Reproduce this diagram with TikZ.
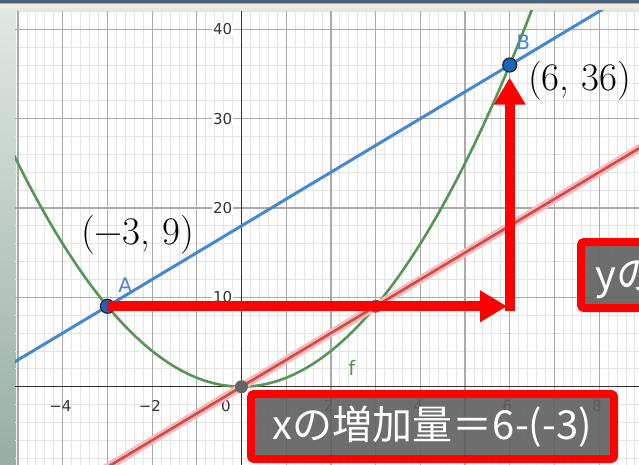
\documentclass[tikz,border=0pt]{standalone}
\usepackage{fontspec}
\newfontfamily\dejavu{DejaVu Sans}
\newfontfamily\jpfont{Noto Sans CJK JP}
\usetikzlibrary{arrows.meta}
\definecolor{ggreen}{RGB}{88,148,88}
\definecolor{ggblue}{RGB}{70,135,205}
\definecolor{gred}{RGB}{210,75,75}
\definecolor{ghalo}{RGB}{242,188,188}
\definecolor{ptblue}{RGB}{25,100,190}
\definecolor{ptgray}{RGB}{100,100,100}
\definecolor{boxgray}{RGB}{95,95,95}
\definecolor{minorg}{RGB}{228,228,228}
\definecolor{majorg}{RGB}{170,170,170}
\definecolor{axisc}{RGB}{50,50,50}
\definecolor{headblue}{RGB}{70,100,130}
\definecolor{headline}{RGB}{160,180,195}
\definecolor{beige}{RGB}{252,236,214}
\definecolor{paleg}{RGB}{226,233,229}
\definecolor{stripbot}{RGB}{150,176,160}
\tikzset{
  minorgrid/.style={minorg, line width=0.8pt},
  majorgrid/.style={majorg, line width=1.2pt},
  axisline/.style={axisc, line width=1.2pt},
  numlab/.style={font=\dejavu\fontsize{15}{15}\selectfont, text=axisc, fill=white, inner sep=1pt},
  bluept/.style={circle, fill=ptblue, draw=black!85, line width=1.2pt, minimum size=14pt, inner sep=0pt},
  graypt/.style={circle, fill=ptgray, minimum size=13pt, inner sep=0pt},
  ptlab/.style={font=\dejavu\fontsize{20}{20}\selectfont},
  bigarrow/.style={red, line width=10pt, -{Triangle[length=27pt,width=30pt]}},
  redbox/.style={draw=red, line width=8pt, fill=boxgray, fill opacity=0.9, draw opacity=1, rounded corners=3pt, inner sep=0pt},
  boxtext/.style={text=white, font=\jpfont\fontsize{40}{40}\selectfont, inner sep=0pt},
  coordlab/.style={font=\rmfamily\fontsize{39}{39}\selectfont, text=black, inner sep=0pt}
}
\begin{document}
\begin{tikzpicture}[x=1pt,y=-1pt]
\useasboundingbox (0,0) rectangle (639,465);
\clip (0,0) rectangle (639,465);
% frame background
\fill[white] (0,0) rectangle (639,465);
\shade[top color=paleg, bottom color=stripbot] (0,0) rectangle (16,465);
\fill[paleg] (16,8) rectangle (639,11);
\fill[headblue] (0,0) rectangle (639,3);
\fill[headline] (0,3) rectangle (639,4.5);
\fill[beige] (0,4.5) rectangle (639,8.5);
% data coordinates
\begin{scope}[shift={(241.5,386.7)}, x=44.7pt, y=8.935pt]
  \begin{scope}
    \clip (-5.07,-9) rectangle (9,42.05);
    \foreach \i in {-26,...,45} \draw[minorgrid] (\i/5,-9) -- (\i/5,42.1);
    \foreach \j in {-4,...,21} \draw[minorgrid] (-5.1,2*\j) -- (9,2*\j);
    \foreach \i in {-5,...,8} \draw[majorgrid] (\i,-9) -- (\i,42.1);
    \foreach \j in {10,20,30,40} \draw[majorgrid] (-5.1,\j) -- (9,\j);
    \draw[axisline] (-5.1,0) -- (9,0);
    \draw[axisline] (0,-9) -- (0,42.1);
    % axis labels
    \foreach \v in {40,30,20,10} \node[numlab, anchor=east] (ylab\v) at (-0.18,\v) {\v};
    \foreach \v/\t in {-4/−4,-2/−2,2/2,4/4,6/6,8/8} \node[numlab, fill=none] (xlab\v) at (\v-0.05,-2.16) {\t};
    \node[numlab, fill=none] (xlab0) at (-0.35,-2.16) {0};
    % curves
    \draw[ggreen, line width=2.6pt] plot[domain=-5.2:6.6, samples=120] (\x,{\x*\x});
    \draw[ggblue, line width=3pt] (-5.2,2.4) -- (8.1,42.3);
    \draw[ghalo, line width=8pt] (-3.2,-9.6) -- (9.2,27.6);
    \draw[gred, line width=2.6pt] (-3.2,-9.6) -- (9.2,27.6);
    % points
    \node[graypt] (O) at (0,0) {};
    \node[graypt] (P) at (3,9) {};
    \node[bluept] (A) at (-3,9) {};
    \node[bluept] (B) at (6,36) {};
    \node[ptlab, text=ggblue] (Alab) at (-2.6,11.4) {A};
    \node[ptlab, text=ggblue] (Blab) at (6.3,38.5) {B};
    \node[ptlab, text=ggreen] (flab) at (2.47,2.1) {f};
    % red arrows
    \coordinate (hEnd) at (5.94,9);
    \coordinate (vStart) at (6,8.45);
    \coordinate (vEnd) at (6,34.6);
    \draw[bigarrow] (A.center) -- (hEnd);
    \draw[bigarrow] (vStart) -- (vEnd);
  \end{scope}
\end{scope}
% coordinate labels
\node[coordlab] (labA) at (137.5,235) {(−3,\hspace{0.3em}9)};
\node[coordlab] (labB) at (579.5,81) {(6,\hspace{0.3em}36)};
% boxes
\node[redbox, minimum width=363pt, minimum height=65pt] (boxX) at (432.5,426.5) {};
\node[boxtext] (txtX) at (432.5,427) {xの増加量＝6-(-3)};
\node[redbox, minimum width=400pt, minimum height=66pt, anchor=west] (boxY) at (577,275) {};
\node[boxtext, anchor=west] (txtY) at (595,277) {yの増加量＝36-9};
\end{tikzpicture}
\end{document}
